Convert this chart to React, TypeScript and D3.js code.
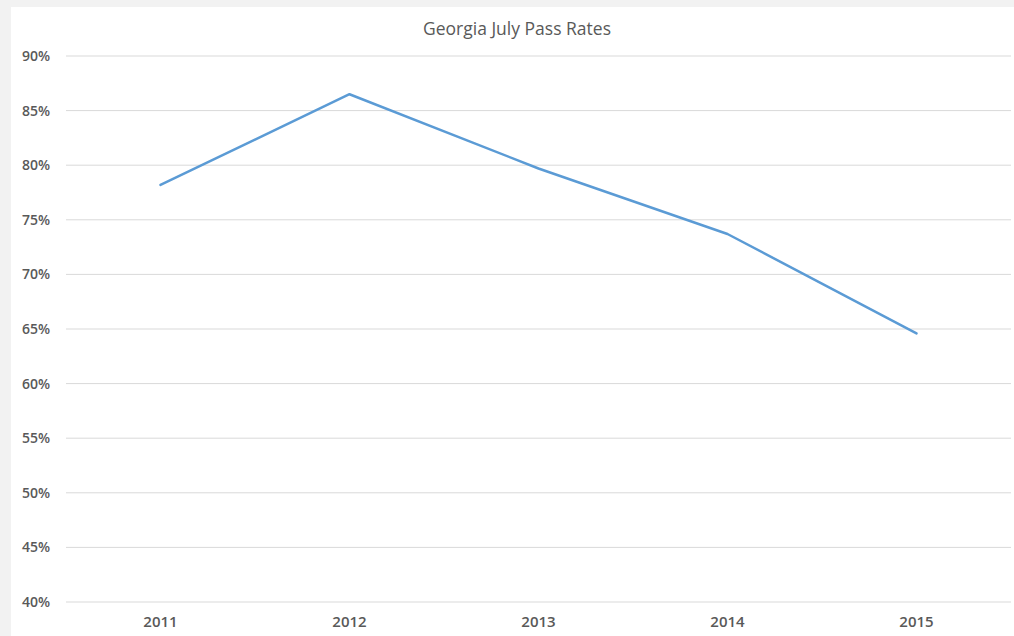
import React from 'react';
import * as d3 from 'd3';

const years = ['2011', '2012', '2013', '2014', '2015'];
const passRates = [78.2, 86.5, 79.7, 73.7, 64.6];
const yTicks = [40, 45, 50, 55, 60, 65, 70, 75, 80, 85, 90];

const width = 1014;
const height = 636;
const margin = { top: 56, right: 3, bottom: 34, left: 66 };

export default function App() {
  const x = d3
    .scaleBand()
    .domain(years)
    .range([margin.left, width - margin.right]);

  const y = d3
    .scaleLinear()
    .domain([40, 90])
    .range([height - margin.bottom, margin.top]);

  const line = d3
    .line<number>()
    .x((d, i) => (x(years[i]) as number) + x.bandwidth() / 2)
    .y((d) => y(d));

  const font = 'Open Sans, Lato, sans-serif';

  return (
    <div style={{ position: 'absolute', left: 0, top: 0 }}>
      <svg width={width} height={height} style={{ display: 'block' }}>
        <rect x={0} y={0} width={width} height={height} fill="#f2f2f2" />
        <rect x={11} y={7} width={width - 11} height={height - 7} fill="#fff" />

        <text
          x={517}
          y={35}
          textAnchor="middle"
          fontFamily={font}
          fontSize={17.5}
          fill="#595959"
        >
          Georgia July Pass Rates
        </text>

        {yTicks.map((t) => (
          <g key={t}>
            <line
              x1={margin.left}
              x2={width - margin.right}
              y1={y(t)}
              y2={y(t)}
              stroke="#d9d9d9"
              strokeWidth={1}
            />
            <text
              x={50}
              y={y(t)}
              dy="0.35em"
              textAnchor="end"
              fontFamily={font}
              fontSize={14}
              fontWeight={600}
              fill="#595959"
            >
              {t}%
            </text>
          </g>
        ))}

        {years.map((yr) => (
          <text
            key={yr}
            x={(x(yr) as number) + x.bandwidth() / 2}
            y={627}
            textAnchor="middle"
            fontFamily={font}
            fontSize={15}
            fontWeight={600}
            fill="#595959"
          >
            {yr}
          </text>
        ))}

        <path
          d={line(passRates) || ''}
          fill="none"
          stroke="#5b9bd5"
          strokeWidth={2.5}
          strokeLinejoin="round"
          strokeLinecap="round"
        />
      </svg>
    </div>
  );
}
